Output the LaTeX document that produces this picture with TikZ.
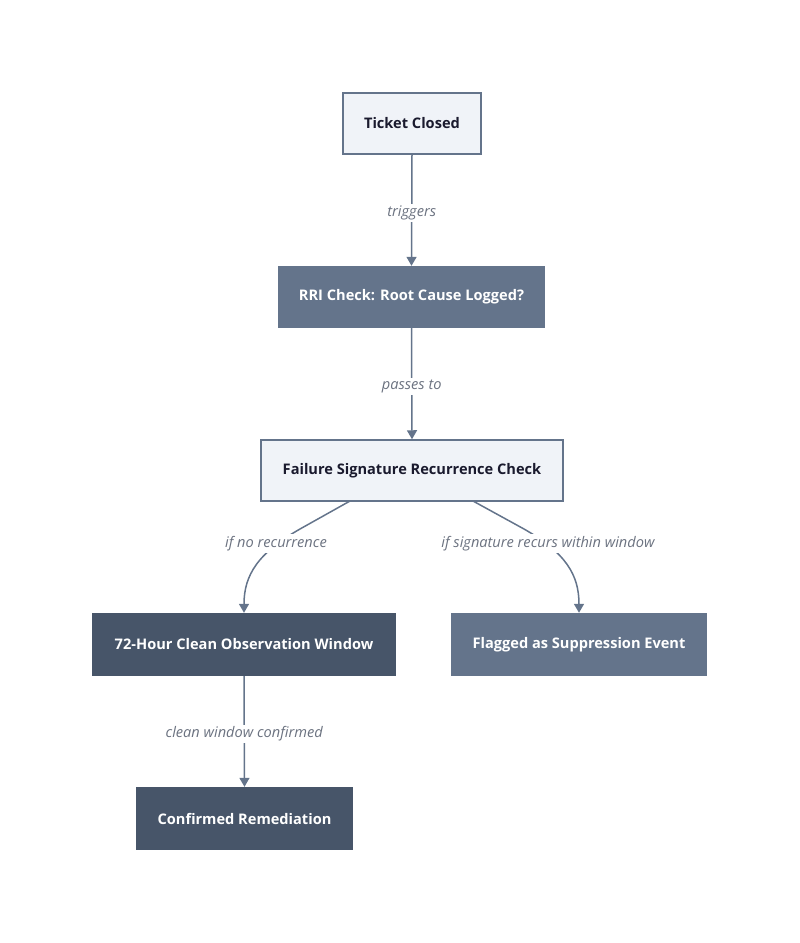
\documentclass[tikz,border=0pt]{standalone}
\usepackage{fontspec}
\setmainfont{Open Sans}
\usetikzlibrary{arrows.meta}
\definecolor{lightfill}{HTML}{F0F3F8}
\definecolor{slateline}{HTML}{64748B}
\definecolor{midfill}{HTML}{64748B}
\definecolor{darkfill}{HTML}{475569}
\definecolor{darktext}{HTML}{1A1A2E}
\definecolor{labeltext}{HTML}{6B7280}
\tikzset{
  base/.style={rectangle, inner sep=0pt, font=\fontsize{14.6}{17}\selectfont\bfseries, align=center},
  lightbox/.style={base, fill=lightfill, draw=slateline, line width=1.5pt, text=darktext},
  midbox/.style={base, fill=midfill, text=white},
  darkbox/.style={base, fill=darkfill, text=white},
  conn/.style={draw=slateline, line width=1.5pt, -{Triangle[length=9pt,width=10pt]}},
  elabel/.style={fill=white, inner sep=2pt, yshift=-2.5pt, font=\fontsize{14.6}{17}\selectfont\itshape, text=labeltext}
}
\begin{document}
\begin{tikzpicture}[x=1pt,y=-1pt]
\useasboundingbox (0,0) rectangle (800,943);
\node[lightbox, minimum width=138pt, minimum height=61pt] (tc) at (412,123.5) {Ticket Closed};
\node[midbox, minimum width=267pt, minimum height=62pt] (rri) at (411.5,297) {RRI Check: Root Cause Logged?};
\node[lightbox, minimum width=302pt, minimum height=61pt] (fs) at (412,470.5) {Failure Signature Recurrence Check};
\node[darkbox, minimum width=304pt, minimum height=63pt] (obs) at (244,644.5) {72-Hour Clean Observation Window};
\node[midbox, minimum width=256pt, minimum height=63pt] (flag) at (579,644.5) {Flagged as Suppression Event};
\node[darkbox, minimum width=217pt, minimum height=63pt] (conf) at (244.5,818.5) {Confirmed Remediation};

\draw[conn] (tc.south) -- (rri.north) node[elabel, pos=0.5] {triggers};
\draw[conn] (rri.south) -- (fs.north) node[elabel, pos=0.5] {passes to};
\coordinate (fl) at (350,501);
\coordinate (fr) at (473,501);
\draw[conn] (fl) -- (300,529) .. controls (258,553) and (244,575) .. (obs.north);
\node[elabel] (l1) at (276,541) {if no recurrence};
\draw[conn] (fr) -- (524,529) .. controls (566,553) and (579,575) .. (flag.north);
\node[elabel] (l2) at (548,541) {if signature recurs within window};
\draw[conn] (obs.south) -- (conf.north) node[elabel, pos=0.5] {clean window confirmed};
\end{tikzpicture}
\end{document}
